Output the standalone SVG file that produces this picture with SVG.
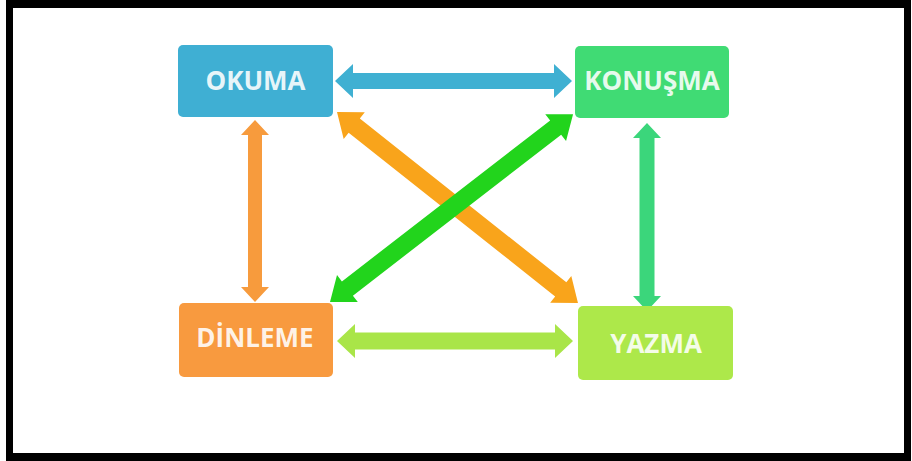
<svg xmlns="http://www.w3.org/2000/svg" width="912" height="461" viewBox="0 0 912 461">
  <style>
    .box { stroke: none; }
    .lbl { font-family: "Open Sans", "Liberation Sans", sans-serif; font-weight: bold; font-size: 26px; fill: #ffffff; fill-opacity: 0.88; text-anchor: middle; }
  </style>
  <rect x="0" y="0" width="912" height="461" fill="#ffffff"/>
  <path d="M6 0 H911 V461 H6 Z M13 8 V453 H904 V8 Z" fill="#000000" fill-rule="evenodd"/>

  <g id="connectors">
    <!-- OKUMA <-> KONUSMA -->
    <polygon fill="#3FB0D2" transform="translate(335,81)" points="0,0 18,-17 18,-8 219,-8 219,-17 237,0 219,17 219,8 18,8 18,17"/>
    <!-- DINLEME <-> YAZMA -->
    <polygon fill="#A9E548" transform="translate(337,341)" points="0,0 18,-17 18,-8.5 218,-8.5 218,-17 236,0 218,17 218,8.5 18,8.5 18,17"/>
    <!-- OKUMA <-> DINLEME -->
    <polygon fill="#F79B3D" transform="translate(255,120) rotate(90)" points="0,0 15,-14 15,-7 167,-7 167,-14 182,0 167,14 167,7 15,7 15,14"/>
    <!-- KONUSMA <-> YAZMA -->
    <polygon fill="#3BD67B" transform="translate(647,123) rotate(90)" points="0,0 15,-14 15,-7.5 173,-7.5 173,-14 188,0 173,14 173,7.5 15,7.5 15,14"/>
    <!-- OKUMA <-> YAZMA diagonal -->
    <polygon fill="#F9A41B" transform="translate(337,112) rotate(38.4)" points="0,0 22,-17 22,-9 285.5,-9 285.5,-17 307.5,0 285.5,17 285.5,9 22,9 22,17"/>
    <!-- DINLEME <-> KONUSMA diagonal -->
    <polygon fill="#22D41C" transform="translate(330,302) rotate(-37.7)" points="0,0 22,-17 22,-9 285.2,-9 285.2,-17 307.2,0 285.2,17 285.2,9 22,9 22,17"/>
  </g>

  <g id="okuma">
    <rect class="box" x="178" y="45" width="155" height="72" rx="5" fill="#3FAFD3"/>
    <text class="lbl" x="255.5" y="90">OKUMA</text>
  </g>
  <g id="konusma">
    <rect class="box" x="575" y="46" width="154" height="72" rx="5" fill="#40DB74"/>
    <text class="lbl" x="652" y="90">KONUŞMA</text>
  </g>
  <g id="dinleme">
    <rect class="box" x="179" y="303" width="154" height="74" rx="5" fill="#F89A3F"/>
    <text class="lbl" x="255" y="347">DİNLEME</text>
  </g>
  <g id="yazma">
    <rect class="box" x="578" y="306" width="155" height="74" rx="5" fill="#ADE84A"/>
    <text class="lbl" x="656" y="353">YAZMA</text>
  </g>
</svg>
